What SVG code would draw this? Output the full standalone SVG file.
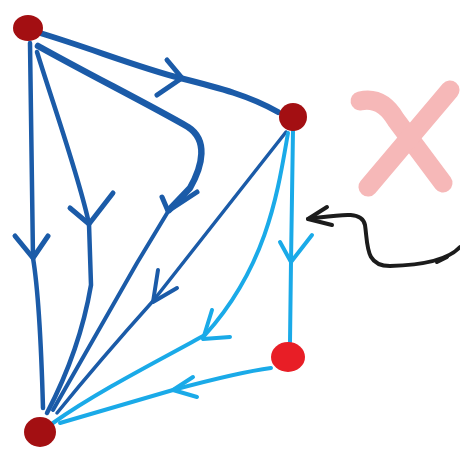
<svg xmlns="http://www.w3.org/2000/svg" width="460" height="449" viewBox="0 0 460 449">
<style>
.e{fill:none;stroke-linecap:round;stroke-linejoin:round}
.d{stroke:#1b5ba8}
.l{stroke:#1aaae8}
.k{fill:none;stroke:#1c1c1c;stroke-width:4;stroke-linecap:round;stroke-linejoin:round}
.x{fill:none;stroke:#f6b8b8;stroke-width:19;stroke-linecap:round;stroke-linejoin:round}
</style>
<rect width="460" height="449" fill="#ffffff"/>
<g id="connectors">
<g id="e-a-b"><path class="e d" stroke-width="6" d="M40,33 C90,48 140,68 180,78 S250,96 278,112"/><path class="e d" stroke-width="5" d="M167,60 L182,78 L157,95"/></g>
<g id="e-a-d-1"><path class="e d" stroke-width="4.5" d="M30,43 L33,258 Q40,300 43,408"/><path class="e d" stroke-width="5" d="M15,236 L33,258 L48,236"/></g>
<g id="e-a-d-2"><path class="e d" stroke-width="4.5" d="M37,52 C55,110 80,180 89,224 L91,285 Q80,350 47,413"/><path class="e d" stroke-width="5" d="M70,208 L89,224 L113,193"/></g>
<g id="e-a-d-3"><path class="e d" stroke-width="6.5" d="M38,46 C90,75 150,105 188,127 C208,140 203,165 190,188 L169,210"/><path class="e d" stroke-width="4" d="M169,210 L137,263 Q110,310 53,410"/><path class="e d" stroke-width="5" d="M162,197 L168,211 L197,192"/></g>
<g id="e-b-d"><path class="e d" stroke-width="3.5" d="M286,132 L153,301 Q100,360 57,413"/><path class="e d" stroke-width="4" d="M158,270 L153,302 L177,288"/></g>
<g id="e-b-d-light"><path class="e l" stroke-width="4" d="M288,133 C278,190 268,265 205,335 C160,360 100,390 53,423"/><path class="e l" stroke-width="4" d="M212,310 L203,339 L230,337"/></g>
<g id="e-c-d"><path class="e l" stroke-width="4" d="M271,368 Q240,372 173,390 L60,423"/><path class="e l" stroke-width="4" d="M193,377 L173,390 L197,397"/></g>
<g id="e-b-c"><path class="e l" stroke-width="4" d="M293,130 L291,262 L290,342"/><path class="e l" stroke-width="4" d="M280,242 L291,262 L312,235"/></g>
</g>
<g id="node-a"><ellipse cx="28" cy="28" rx="15" ry="13" fill="#a30f12"/></g>
<g id="node-b"><ellipse cx="293" cy="117" rx="14" ry="14" fill="#a30f12"/></g>
<g id="node-c"><ellipse cx="288" cy="357" rx="17" ry="15" fill="#e81e26"/></g>
<g id="node-d"><ellipse cx="40" cy="432" rx="16" ry="15" fill="#a30f12"/></g>
<g id="cross"><path class="x" d="M360,101 Q382,96 396,120 L443,183"/><path class="x" d="M450,90 L368,187"/></g>
<g id="pointer"><path class="k" d="M460,247 C450,258 430,265 390,266 C365,266 368,245 365,225 C362,210 340,215 308,219"/><path class="k" d="M327,207 L308,219 L332,225"/><path class="k" d="M437,262 L447,257"/></g>
</svg>
